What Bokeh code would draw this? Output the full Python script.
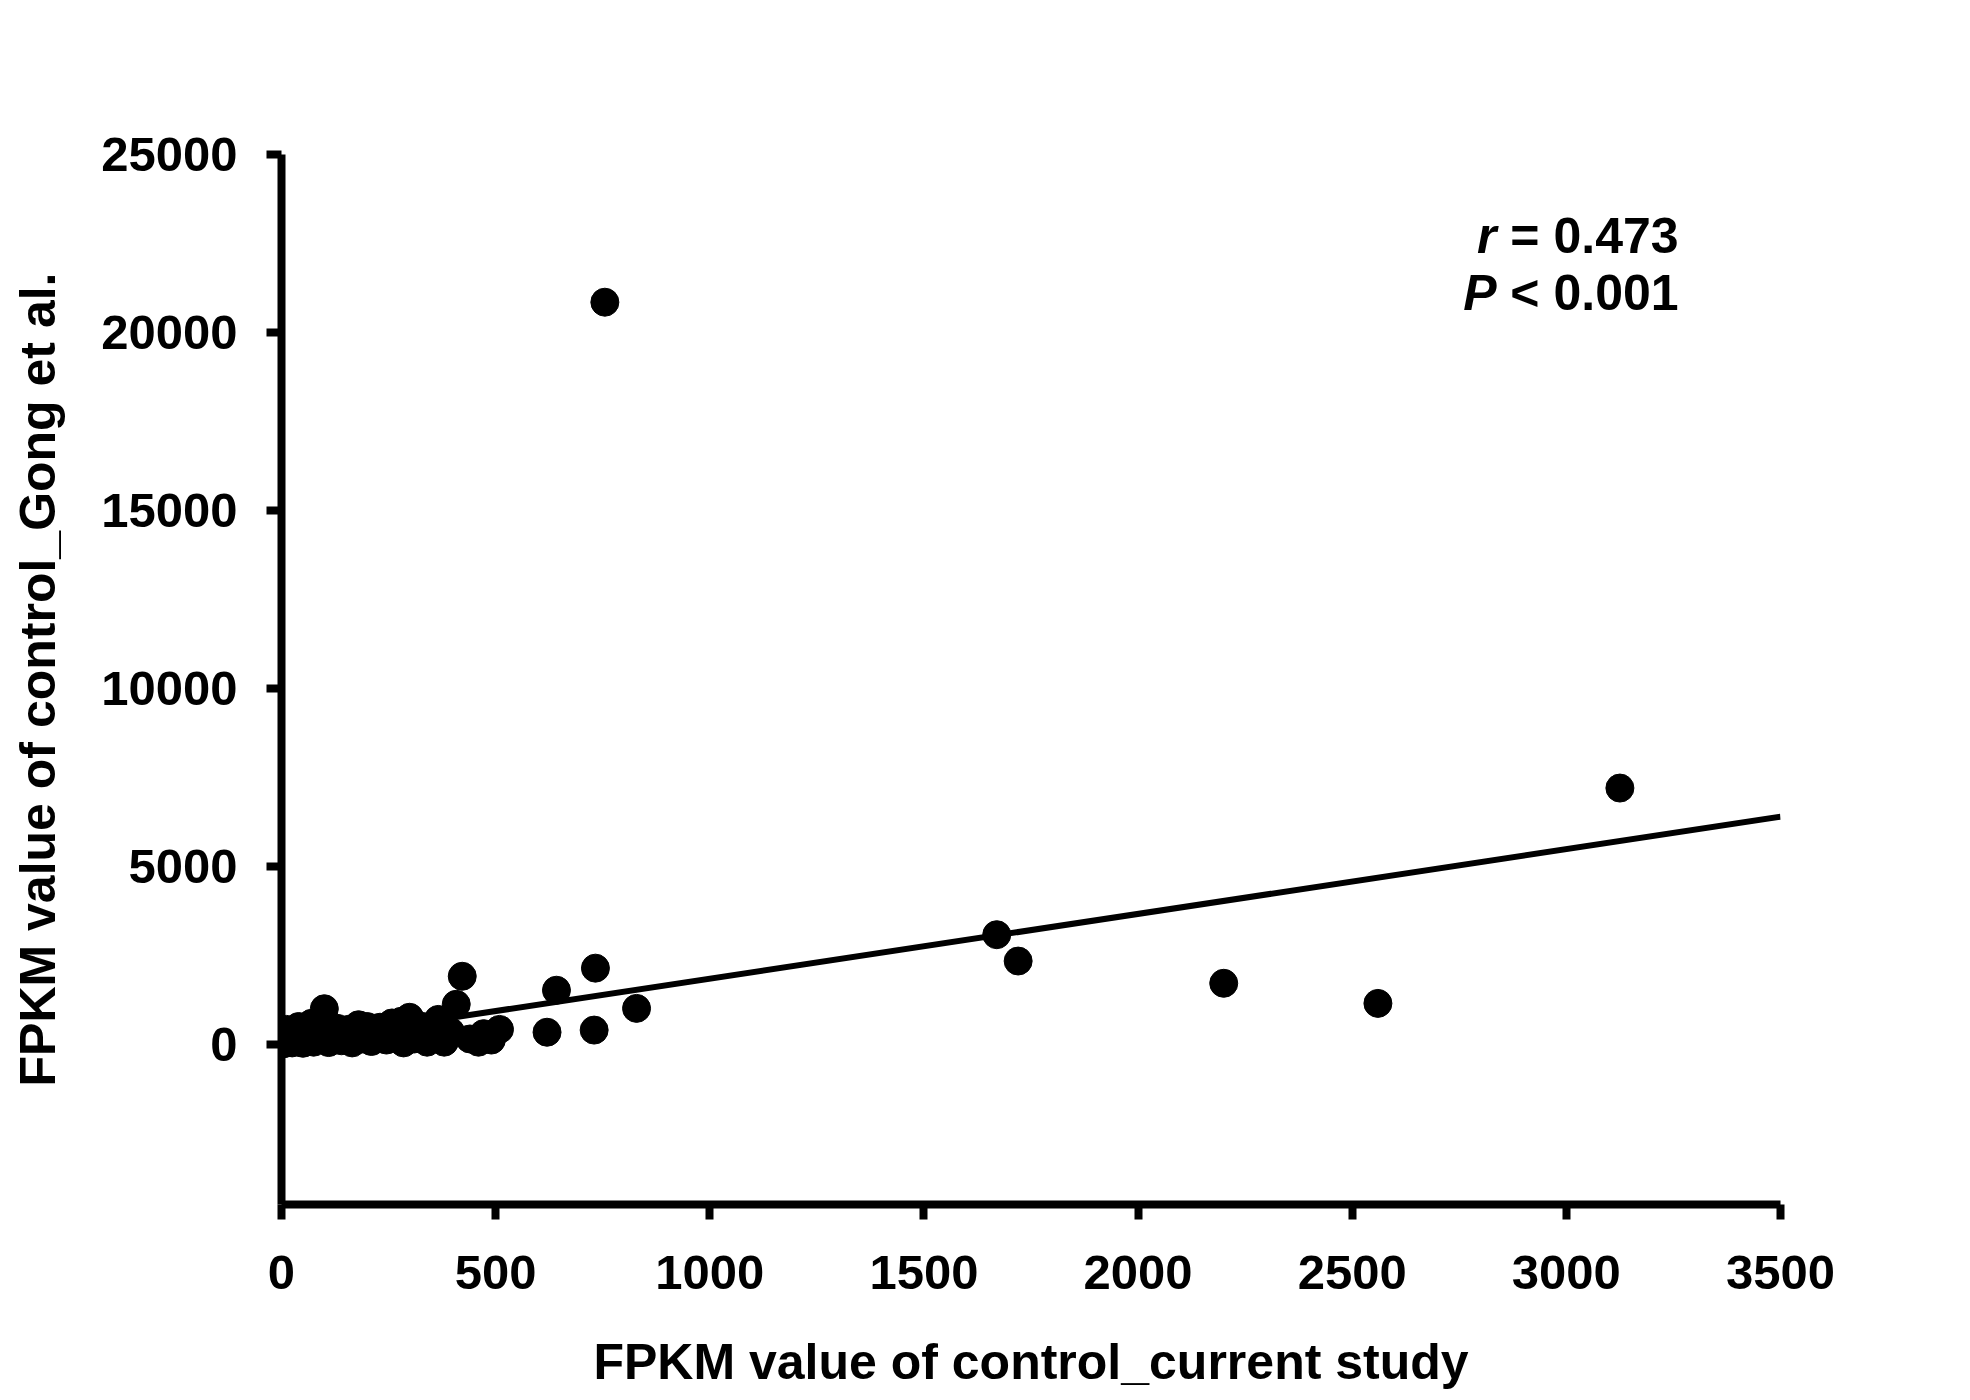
from bokeh.plotting import figure
from bokeh.models import Range1d, FixedTicker, ColumnDataSource
from bokeh.core.properties import value
from bokeh.embed import file_html
from bokeh.resources import INLINE

# FPKM values (x: current study, y: Gong et al.)
current_study = [
    3125, 1670, 1720, 2200, 2560, 755, 829, 733, 730, 642, 620, 422, 408,
    2, 5, 8, 10, 12, 15, 18, 20, 25, 28, 32, 36, 40, 45, 50, 55, 60, 65,
    70, 75, 80, 85, 90, 100, 105, 110, 118, 125, 130, 140, 148, 155, 165,
    172, 180, 190, 200, 210, 220, 230, 245, 258, 265, 280, 285, 292, 299,
    310, 330, 340, 355, 366, 372, 380, 395, 440, 460, 472, 490, 509,
]
gong_et_al = [
    7200, 3080, 2340, 1715, 1150, 20850, 1010, 2140, 400, 1520, 340, 1912, 1125,
    10, 60, 150, 30, 420, 220, 80, 300, 40, 160, 350, 90, 500, 200, 30, 280, 120,
    420, 590, 60, 250, 400, 150, 1000, 300, 50, 200, 380, 450, 100, 260, 420, 40,
    300, 550, 150, 500, 80, 280, 480, 120, 600, 250, 650, 40, 300, 760,
    150, 500, 60, 450, 700, 250, 60, 350, 150, 60, 300, 120, 420,
]

# linear fit
fit_intercept = 25
fit_slope = 1.82
fit_x = [0, 3500]
fit_y = [fit_intercept + fit_slope * v for v in fit_x]

x_ticks = [0, 500, 1000, 1500, 2000, 2500, 3000, 3500]
y_ticks = [0, 5000, 10000, 15000, 20000, 25000]

FONT = "Liberation Sans"

p = figure(frame_width=1499, frame_height=1050,
           x_range=Range1d(0, 3500), y_range=Range1d(-4500, 25000),
           min_border_left=281, min_border_right=170,
           min_border_top=154, min_border_bottom=180,
           output_backend="svg", toolbar_location=None)

p.outline_line_color = None
p.grid.visible = False
p.background_fill_color = "white"

# regression line under the points
p.line(fit_x, fit_y, line_color="black", line_width=6)

src = ColumnDataSource(data=dict(x=current_study, y=gong_et_al))
p.scatter("x", "y", source=src, size=28, fill_color="black", line_color="black")

# axes
for ax in (p.xaxis, p.yaxis):
    ax.axis_line_width = 8
    ax.axis_line_color = "black"
    ax.major_tick_line_width = 8
    ax.major_tick_line_color = "black"
    ax.major_tick_in = 0
    ax.major_tick_out = 15
    ax.minor_tick_line_color = None
    ax.major_label_text_font = FONT
    ax.major_label_text_font_style = "bold"
    ax.major_label_text_font_size = "49px"
    ax.major_label_text_color = "black"
    ax.axis_label_text_font = FONT
    ax.axis_label_text_font_style = "bold"
    ax.axis_label_text_font_size = "50px"
    ax.axis_label_text_color = "black"

p.xaxis.ticker = FixedTicker(ticks=x_ticks)
p.yaxis.ticker = FixedTicker(ticks=y_ticks)
p.xaxis.major_label_standoff = 36
p.yaxis.major_label_standoff = 29
p.xaxis.axis_label = "FPKM value of control_current study"
p.yaxis.axis_label = "FPKM value of control_Gong et al."
p.xaxis.axis_label_standoff = 42
p.yaxis.axis_label_standoff = 32

# r / P annotation
stat_x = 3262
sym_gap = 425
r_base = 22710
p_base = 21110
p.text([stat_x], [r_base], text=["= 0.473"], text_align="right",
       text_baseline="alphabetic", text_font=value(FONT),
       text_font_style="bold", text_font_size="50px", text_color="black")
p.text([stat_x - sym_gap], [r_base], text=["r"], text_align="right",
       text_baseline="alphabetic", text_font=value(FONT),
       text_font_style="bold italic", text_font_size="50px", text_color="black")
p.text([stat_x], [p_base], text=["< 0.001"], text_align="right",
       text_baseline="alphabetic", text_font=value(FONT),
       text_font_style="bold", text_font_size="50px", text_color="black")
p.text([stat_x - sym_gap], [p_base], text=["P"], text_align="right",
       text_baseline="alphabetic", text_font=value(FONT),
       text_font_style="bold italic", text_font_size="50px", text_color="black")

open("out.html", "w").write(file_html(p, INLINE))
